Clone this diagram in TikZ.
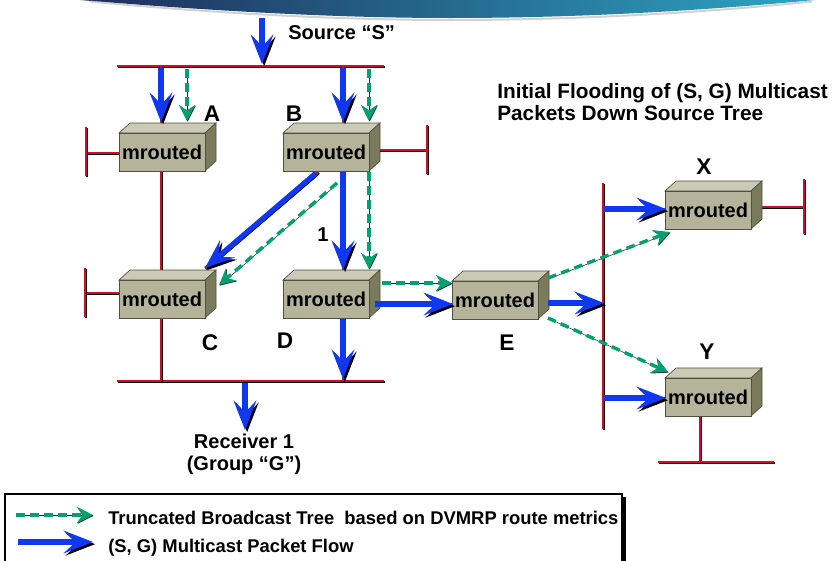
\documentclass[tikz,border=0pt]{standalone}
\usepackage{fontspec}
\setmainfont{Liberation Sans}
\usetikzlibrary{arrows.meta}
\definecolor{lanred}{RGB}{200,16,46}
\definecolor{arrblue}{RGB}{16,56,240}
\definecolor{arrgreen}{RGB}{0,160,112}
\definecolor{rfront}{RGB}{181,180,154}
\definecolor{rtop}{RGB}{202,202,182}
\definecolor{rside}{RGB}{122,122,92}
\definecolor{redge}{RGB}{80,80,62}
\definecolor{bannerL}{RGB}{30,45,90}
\definecolor{bannerM}{RGB}{28,92,140}
\definecolor{bannerR}{RGB}{45,165,195}
\newcommand\mrouter[3]{%
  \filldraw[draw=redge, fill=rtop, line width=0.5pt] (#2,#3) -- ++(11,-10) -- ++(86,0) -- ++(-11,10) -- cycle;
  \filldraw[draw=redge, fill=rside, line width=0.5pt] ({#2+86},#3) -- ++(11,-10) -- ++(0,38) -- ++(-11,10) -- cycle;
  \node[router] (#1) at ({#2+43},{#3+19}) {mrouted};}
\begin{document}
\begin{tikzpicture}[x=0.75pt,y=-0.75pt,
  lan/.style={draw=lanred, line width=2pt,
    preaction={draw=black, line width=2pt, transform canvas={shift={(0.7pt,-0.7pt)}}}},
  barrow/.style={draw=arrblue, line width=3.8pt,
    -{Stealth[length=22pt,width=17pt,inset=9pt]},
    preaction={draw=black, transform canvas={shift={(1.6pt,-1.6pt)}}}},
  garrow/.style={draw=arrgreen, line width=2.6pt, dash pattern=on 6.5pt off 4pt,
    -{Stealth[length=12pt,width=12pt,inset=4pt]},
    preaction={draw=black!85, transform canvas={shift={(0.5pt,-0.5pt)}}}},
  router/.style={draw=redge, fill=rfront, line width=0.5pt, minimum width=64.5pt,
    minimum height=28.5pt, inner sep=0pt, font=\fontsize{15}{18}\selectfont\bfseries},
  lbl/.style={font=\fontsize{17}{20}\selectfont\bfseries, inner sep=0pt},
  txt/.style={font=\fontsize{15}{18}\selectfont\bfseries, inner sep=0pt}
]
\useasboundingbox (0,0) rectangle (840,561);

% banner
\shade[left color=bannerL, middle color=bannerM, right color=bannerR]
  (80,0) .. controls (200,10) and (330,18) .. (450,18) .. controls (600,18) and (730,8) .. (815,0) -- cycle;
\draw[black!30, line width=1.5pt, opacity=0.6]
  (90,1.5) .. controls (200,12) and (330,20) .. (450,20) .. controls (600,20) and (730,10) .. (812,1.5);

% named coordinates
\coordinate (srcTop) at (262,18);
\coordinate (srcBot) at (262,64);
\coordinate (barTL) at (117,66);
\coordinate (barTR) at (384,66);
\coordinate (barBL) at (117,381);
\coordinate (barBR) at (384,381);
\coordinate (lanT) at (603,183);
\coordinate (lanB) at (603,429);

% LAN lines
\draw[lan] (barTL) -- (barTR);
\draw[lan] (barBL) -- (barBR);
\draw[lan] (lanT) -- (lanB);
\draw[lan] (161,66) -- (161,381);
\draw[lan] (343,66) -- (343,381);
\draw[lan] (86,153) -- (119,153);
\draw[lan] (86,127) -- (86,176);
\draw[lan] (85,293) -- (119,293);
\draw[lan] (85,268) -- (85,317);
\draw[lan] (372,150) -- (427,150);
\draw[lan] (427,125) -- (427,174);
\draw[lan] (318,172) -- (205,268);
\draw[lan] (372,304) -- (452,304);
\draw[lan] (540,303) -- (603,303);
\draw[lan] (603,209) -- (665,209);
\draw[lan] (603,398) -- (665,398);
\draw[lan] (755,207) -- (804,207);
\draw[lan] (804,179) -- (804,234);
\draw[lan] (700,416) -- (700,462);
\draw[lan] (658,462) -- (774,462);

% routers
\mrouter{A}{119}{133}
\mrouter{B}{283}{133}
\mrouter{C}{119}{280}
\mrouter{D}{283}{280}
\mrouter{E}{452}{281}
\mrouter{X}{665}{191}
\mrouter{Y}{665}{378}

% labels
\node[lbl] (lA) at (212,114) {A};
\node[lbl] (lB) at (294,114) {B};
\node[lbl] (lC) at (210,343) {C};
\node[lbl] (lD) at (285,341) {D};
\node[lbl] (lE) at (507,343) {E};
\node[lbl] (lX) at (704,167) {X};
\node[lbl] (lY) at (707,352) {Y};
\node[font=\fontsize{15}{17}\selectfont\bfseries, inner sep=0pt] (l1) at (323,235) {1};

\node[txt, anchor=west] (src) at (288,33) {Source “S”};
\node[txt, align=center, font=\fontsize{15}{16.5}\selectfont\bfseries] (rcv) at (244,454) {Receiver 1\\(Group “G”)};
\node[txt, anchor=west, align=left, font=\fontsize{15.6}{16.5}\selectfont\bfseries] (title) at (497,102)
  {Initial Flooding of (S, G) Multicast\\Packets Down Source Tree};

% endpoint coordinates
\coordinate (aIn0) at (161,68);   \coordinate (aIn1) at (161,122);
\coordinate (bIn0) at (343,68);   \coordinate (bIn1) at (343,122);
\coordinate (bc0) at (316,173);   \coordinate (bc1) at (205,268);
\coordinate (bd0) at (343,172);   \coordinate (bd1) at (343,270);
\coordinate (dd0) at (343,319);   \coordinate (dd1) at (343,379);
\coordinate (de0) at (375,304);   \coordinate (de1) at (453,304);
\coordinate (el0) at (548,303);   \coordinate (el1) at (604,303);
\coordinate (lx0) at (604,209);   \coordinate (lx1) at (666,209);
\coordinate (ly0) at (604,398);   \coordinate (ly1) at (666,398);
\coordinate (rc0) at (245,383);   \coordinate (rc1) at (245,430);
\coordinate (gA0) at (187,69);    \coordinate (gA1) at (187,121);
\coordinate (gB0) at (369,69);    \coordinate (gB1) at (369,121);
\coordinate (gbc0) at (337,183);  \coordinate (gbc1) at (219,285);
\coordinate (gbd0) at (369,172);  \coordinate (gbd1) at (369,269);
\coordinate (gde0) at (382,283);  \coordinate (gde1) at (452,283);
\coordinate (gex0) at (548,278);  \coordinate (gex1) at (670,232);
\coordinate (gey0) at (548,318);  \coordinate (gey1) at (668,372);

% blue flow arrows
\draw[barrow] (srcTop) -- (srcBot);
\draw[barrow] (aIn0) -- (aIn1);
\draw[barrow] (bIn0) -- (bIn1);
\draw[barrow] (bc0) -- (bc1);
\draw[barrow] (bd0) -- (bd1);
\draw[barrow] (dd0) -- (dd1);
\draw[barrow] (de0) -- (de1);
\draw[barrow] (el0) -- (el1);
\draw[barrow] (lx0) -- (lx1);
\draw[barrow] (ly0) -- (ly1);
\draw[barrow] (rc0) -- (rc1);

% green truncated broadcast arrows
\draw[garrow] (gA0) -- (gA1);
\draw[garrow] (gB0) -- (gB1);
\draw[garrow] (gbc0) -- (gbc1);
\draw[garrow] (gbd0) -- (gbd1);
\draw[garrow] (gde0) -- (gde1);
\draw[garrow] (gex0) -- (gex1);
\draw[garrow] (gey0) -- (gey1);

% legend
\coordinate (lgTL) at (5,494);
\coordinate (lgTR) at (622,494);
\coordinate (lgBL) at (5,561);
\coordinate (lgBR) at (622,561);
\draw[black, line width=0.8pt] (lgBL) -- (lgTL) -- (lgTR) -- (lgBR);
\fill[black] (622,497) rectangle (626,561);
\coordinate (lg10) at (16,515);  \coordinate (lg11) at (93,515);
\coordinate (lg20) at (18,542);  \coordinate (lg21) at (93,542);
\draw[garrow] (lg10) -- (lg11);
\draw[barrow] (lg20) -- (lg21);
\begin{scope}
\clip (5,494) rectangle (622,561);
\node[anchor=west, inner sep=0pt, font=\fontsize{13.8}{16}\selectfont\bfseries] (lgt1) at (108,518)
  {Truncated Broadcast Tree\ \ based on DVMRP route metrics};
\end{scope}
\node[anchor=west, inner sep=0pt, font=\fontsize{13.8}{16}\selectfont\bfseries] (lgt2) at (108,548)
  {(S, G) Multicast Packet Flow};
\end{tikzpicture}
\end{document}
